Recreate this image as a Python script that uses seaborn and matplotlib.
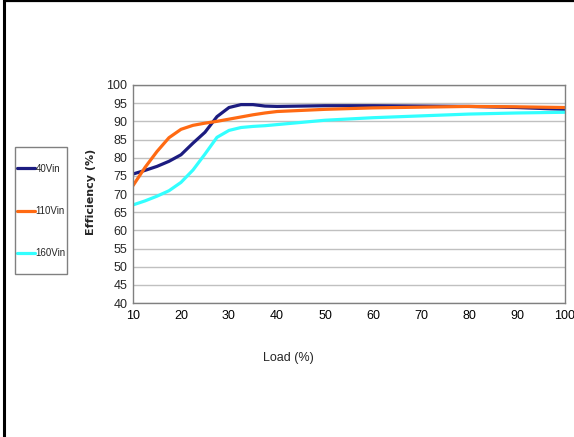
import pandas as pd
import seaborn as sns
import matplotlib.pyplot as plt
from matplotlib.patches import Rectangle
from matplotlib.lines import Line2D

# values
load = [10, 12.5, 15, 17.5, 20, 22.5, 25, 27.5, 30, 32.5, 35, 37.5, 40, 50, 60, 70, 80, 90, 100]
eff_40 = [75.5, 76.5, 77.6, 79.0, 80.8, 84.0, 87.0, 91.3, 93.8, 94.6, 94.6, 94.2, 94.1, 94.3, 94.3, 94.2, 94.1, 93.8, 93.3]
eff_110 = [72.3, 77.3, 81.7, 85.5, 87.8, 88.9, 89.5, 90.0, 90.6, 91.2, 91.8, 92.3, 92.7, 93.3, 93.7, 93.9, 94.1, 94.0, 93.8]
eff_160 = [67.0, 68.1, 69.4, 70.9, 73.2, 76.6, 81.0, 85.6, 87.5, 88.3, 88.6, 88.8, 89.1, 90.3, 91.0, 91.5, 92.0, 92.3, 92.5]
series = ["40Vin", "110Vin", "160Vin"]
colors = ["#1c1c80", "#ff6a13", "#33ffff"]
yticks = list(range(40, 101, 5))
xticks = list(range(10, 101, 10))

rows = []
for name, vals in zip(series, [eff_40, eff_110, eff_160]):
    for x, y in zip(load, vals):
        rows.append({"Load": x, "Efficiency": y, "Input": name})
df = pd.DataFrame(rows)

sns.set_theme(style="white")
plt.rcParams["font.family"] = ["Liberation Sans", "DejaVu Sans"]

fig = plt.figure(figsize=(5.74, 4.37), dpi=100)
ax = fig.add_axes([0.2317, 0.3066, 0.7526, 0.4989])

sns.lineplot(data=df, x="Load", y="Efficiency", hue="Input", palette=colors,
             hue_order=series, linewidth=2.3, ax=ax, legend=True)

ax.set_xlim(10, 100)
ax.set_ylim(40, 100)
ax.set_xticks(xticks)
ax.set_yticks(yticks)
ax.yaxis.grid(True, color="#c0c0c0", linewidth=1)
ax.xaxis.grid(False)
ax.set_axisbelow(True)
for s in ax.spines.values():
    s.set_color("#808080")
    s.set_linewidth(1)
ax.tick_params(axis="x", direction="in", length=4, width=1, color="#808080",
               labelsize=9, pad=5, colors="black")
ax.tick_params(axis="y", length=0, labelsize=9, pad=4)
ax.set_xlabel("Load (%)", fontsize=9)
ax.xaxis.set_label_coords(0.359, -0.225)
ax.set_ylabel("Efficiency (%)", fontsize=8, fontweight="bold",
              family=["DejaVu Sans"])
ax.yaxis.set_label_coords(-0.086, 0.509)

handles, labels = ax.get_legend_handles_labels()
ax.legend(handles, labels, loc="upper left", bbox_to_anchor=(0.030, 0.625),
          bbox_transform=fig.transFigure, frameon=False, fontsize=7,
          labelspacing=3.3, handlelength=1.85, handletextpad=0.05,
          borderpad=0, borderaxespad=0)

# legend box and figure border
fig.patches.append(Rectangle((0.026, 0.373), 0.091, 0.291, transform=fig.transFigure,
                             fill=False, edgecolor="#808080", linewidth=1))
fig.lines.append(Line2D([0.0078, 0.0078], [0, 1], transform=fig.transFigure,
                        color="black", linewidth=2.2))
fig.lines.append(Line2D([0.0078, 1], [0.9975, 0.9975], transform=fig.transFigure,
                        color="black", linewidth=1.6))

fig.savefig("out.png", dpi=100)
